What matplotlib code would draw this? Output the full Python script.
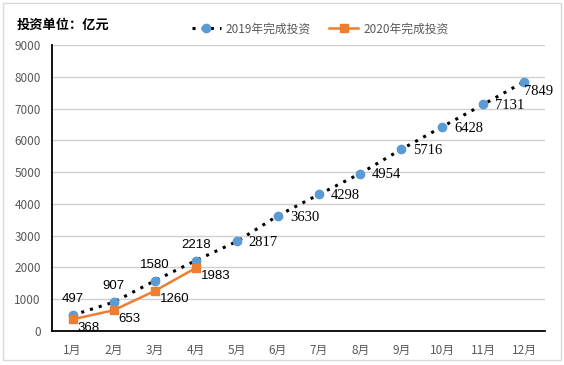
import numpy as np
import matplotlib.pyplot as plt
from matplotlib.patches import Rectangle

plt.rcParams['font.family'] = ['Noto Sans CJK SC', 'DejaVu Sans']

months = ['1月', '2月', '3月', '4月', '5月', '6月', '7月', '8月', '9月', '10月', '11月', '12月']
inv2019 = [497, 907, 1580, 2218, 2817, 3630, 4298, 4954, 5716, 6428, 7131, 7849]
inv2020 = [368, 653, 1260, 1983]
yticks = np.arange(0, 9001, 1000)

blue = '#5b9bd5'
orange = '#ed7d31'

fig = plt.figure(figsize=(5.64, 3.65), dpi=100)
ax = fig.add_axes([52/564, 1-331/365, 493/564, 286/365])

x19 = np.arange(len(inv2019))
x20 = np.arange(len(inv2020))
ax.plot(x19, inv2019, color='black', linestyle=(0, (1, 2.0)), linewidth=2.2,
        marker='o', markersize=6, markerfacecolor=blue, markeredgecolor=blue,
        label='2019年完成投资', zorder=3)
ax.plot(x20, inv2020, color=orange, linewidth=1.8,
        marker='s', markersize=6, markerfacecolor=orange, markeredgecolor=orange,
        label='2020年完成投资', zorder=4)

# data labels
last = len(inv2019) - 1
for i, v in enumerate(inv2019):
    if i < 4:
        ax.annotate(str(v), (i, v), xytext=(0, 7), textcoords='offset points',
                    ha='center', va='bottom', fontsize=9.5, family='Liberation Sans')
    elif i == last:
        ax.annotate(str(v), (i, v), xytext=(0, -7), textcoords='offset points',
                    ha='left', va='center', fontsize=10.5, family='Liberation Serif')
    else:
        ax.annotate(str(v), (i, v), xytext=(8.5, -1), textcoords='offset points',
                    ha='left', va='center', fontsize=10.5, family='Liberation Serif')
for i, v in enumerate(inv2020):
    ax.annotate(str(v), (i, v), xytext=(3.5, -6), textcoords='offset points',
                ha='left', va='center', fontsize=9.5, family='Liberation Sans')

ax.set_xlim(-0.5, len(months) - 0.5)
ax.set_ylim(0, 9000)
ax.set_xticks(x19)
ax.set_xticklabels(months)
ax.set_yticks(yticks)
ax.set_yticklabels([str(t) for t in yticks])
ax.tick_params(axis='both', length=0, labelsize=8.5, colors='#595959')
ax.tick_params(axis='x', pad=9)
ax.tick_params(axis='y', pad=8)
ax.grid(axis='y', color='#d0d0d0', linewidth=1)
ax.set_axisbelow(True)
for s in ['top', 'right']:
    ax.spines[s].set_visible(False)
ax.spines['left'].set_color('black')
ax.spines['bottom'].set_color('black')
ax.spines['left'].set_linewidth(1.3)
ax.spines['bottom'].set_linewidth(1.3)

fig.text(17/564, 1-25/365, '投资单位：亿元', fontsize=9.5, fontweight='bold', va='center', ha='left')
ax.legend(loc='center', bbox_to_anchor=(320/564, 1-29/365), bbox_transform=fig.transFigure,
          ncol=2, frameon=False, fontsize=8.5, labelcolor='#595959',
          handlelength=2.5, columnspacing=1.5, handletextpad=0.4)

fig.patches.append(Rectangle((3/564, 5/365), 558/564, 357/365, transform=fig.transFigure,
                             fill=False, edgecolor='#d9d9d9', linewidth=1))

fig.savefig('out.png', dpi=100)
